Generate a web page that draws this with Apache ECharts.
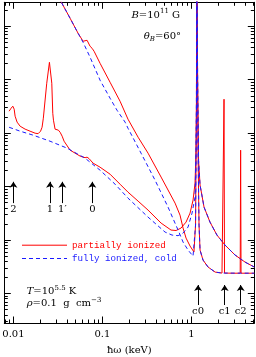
<!DOCTYPE html>
<html><head><meta charset="utf-8">
<script src="https://cdn.jsdelivr.net/npm/echarts@6/dist/echarts.min.js"></script>
<style>html,body{margin:0;padding:0;background:#fff}#c{width:256px;height:357px}</style>
</head><body><div id="c"></div>
<script>
// [photon energy ħω (keV), absorption opacity (arb. log units)]
const partialModeA = [
  [0.0318, 36400],[0.0434, 14100],[0.0533, 7400],[0.0607, 5250],[0.0639, 5710],
  [0.0673, 5470],[0.0727, 4230],[0.0766, 3880],[0.0807, 3410],[0.0942, 2030],
  [0.122, 898],[0.158, 396],[0.194, 183],[0.252, 84.2],[0.326, 42.3],
  [0.457, 15.1],[0.656, 4.92],[0.746, 2.93],[0.807, 1.68],[0.872, 1.09],
  [0.967, 0.773],[1.07, 0.597],[1.115, 1.91],[1.138, 175],[1.153, 72000],
  [1.171, 72000],[1.189, 48.1],[1.22, 1.91],[1.253, 0.650],[1.353, 0.423],
  [1.54, 0.313],[1.85, 0.252],[2.21, 0.2415],[2.31, 0.2415],[2.33, 432],
  [2.36, 0.2415],[2.87, 0.24],[3.54, 0.24],[3.58, 48.1],[3.62, 0.24],[5.1, 0.24]
];
const fullModeA = [
  [0.0318, 36400],[0.0434, 14100],[0.0533, 7400],[0.0607, 5020],[0.0727, 2640],
  [0.0942, 979],[0.122, 451],[0.146, 269],[0.180, 161],[0.194, 124],
  [0.272, 42.3],[0.391, 13.2],[0.547, 4.14],[0.709, 1.54],[0.807, 0.918],
  [0.918, 0.650],[1.045, 0.502],[1.115, 1.91],[1.138, 175],[1.153, 72000],
  [1.171, 72000],[1.189, 48.1],[1.22, 1.91],[1.253, 0.650],[1.353, 0.423],
  [1.54, 0.313],[1.85, 0.252],[2.21, 0.2415],[5.1, 0.24]
];
const partialModeB = [
  [0.00895, 258],[0.00942, 293],[0.00985, 320],[0.0102, 281],[0.01045, 208],
  [0.0110, 161],[0.0119, 135],[0.01354, 119],[0.0154, 109],[0.01753, 100],
  [0.01895, 97.9],[0.0202, 109],[0.0210, 129],[0.0217, 191],[0.0237, 861],
  [0.0254, 2120],[0.0270, 861],[0.0277, 236],[0.0282, 175],[0.0294, 119],
  [0.0320, 114],[0.0335, 104],[0.0353, 87.9],[0.0371, 70.8],[0.0434, 48.1],
  [0.0562, 37.2],[0.0639, 34.8],[0.0673, 35.6],[0.0709, 33.4],[0.0786, 27.5],
  [0.0942, 23.1],[0.122, 17.1],[0.158, 11.1],[0.194, 7.89],[0.252, 5.36],
  [0.326, 3.64],[0.457, 2.08],[0.591, 1.54],[0.673, 1.51],[0.766, 1.68],
  [0.872, 2.17],[0.967, 3.20],[1.045, 5.60],[1.10, 11.6],[1.129, 48.1],
  [1.144, 414],[1.153, 72000],[1.171, 72000],[1.183, 414],[1.205, 31.3],
  [1.253, 10.7],[1.389, 4.14],[1.62, 2.17],[1.94, 1.24],[2.39, 0.807],
  [3.10, 0.525],[4.01, 0.388],[5.1, 0.313]
];
const fullModeB = [
  [0.00895, 129],[0.0119, 109],[0.01665, 91.8],[0.0258, 70.8],[0.0401, 52.5],
  [0.0639, 34.1],[0.0942, 20.3],[0.139, 11.1],[0.194, 6.10],[0.326, 2.69],
  [0.507, 1.41],[0.607, 1.24],[0.709, 1.21],[0.807, 1.35],[0.918, 1.75],
  [1.018, 3.20],[1.10, 6.37],[1.129, 48.1],[1.144, 414],[1.153, 72000],
  [1.171, 72000],[1.183, 414],[1.205, 31.3],[1.253, 10.7],[1.389, 4.14],
  [1.62, 2.17],[1.94, 1.24],[2.39, 0.807],[3.10, 0.525],[4.01, 0.388],[5.1, 0.313]
];
// transition energies (keV) marked by arrows
const boundLabels = ['2', '1', '1\u2032', '0'];
const boundEnergies = [0.01, 0.0258, 0.0355, 0.0771];
const edgeLabels = ['c0', 'c1', 'c2'];
const edgeEnergies = [1.19, 2.37, 3.59];
// tick values
const xMajorTicks = [0.01, 0.1, 1];
const xTickLabels = ['0.01', '0.1', '1'];
const xMinorTicks = [0.008,0.009,0.02,0.03,0.04,0.05,0.06,0.07,0.08,0.09,0.2,0.3,0.4,0.5,0.6,0.7,0.8,0.9,2,3,4,5];
const yMajorTicks = [0.1, 1, 10, 100, 1000, 10000];
const yMinorTicks = [0.03,0.04,0.05,0.06,0.07,0.08,0.09,0.2,0.3,0.4,0.5,0.6,0.7,0.8,0.9,2,3,4,5,6,7,8,9,
  20,30,40,50,60,70,80,90,200,300,400,500,600,700,800,900,2000,3000,4000,5000,6000,7000,8000,9000,20000];

const RED = '#ff0000', BLUE = '#1a1aff', SERIF = 'DejaVu Serif';
const X_MIN = 0.0079, X_MAX = 5.1, Y_MIN = 0.0281, Y_MAX = 28100;

function xAx(pos, ticks, len, main) {
  return {
    type: 'log', logBase: 10, min: X_MIN, max: X_MAX, position: pos,
    axisLine: {show: main, onZero: false, lineStyle: {color: '#000', width: 1}},
    axisTick: {show: true, inside: true, length: len, customValues: ticks, lineStyle: {color: '#000', width: 1}},
    axisLabel: main && pos === 'bottom' ? {
      show: true, customValues: xMajorTicks, margin: 6, color: '#000',
      fontFamily: SERIF, fontSize: 10,
      formatter: v => xTickLabels[xMajorTicks.findIndex(t => Math.abs(t - v) / t < 1e-6)]
    } : {show: false},
    splitLine: {show: false}, minorTick: {show: false},
    name: main && pos === 'bottom' ? 'ħω (keV)' : '',
    nameLocation: 'middle', nameGap: 22,
    nameTextStyle: {fontFamily: SERIF, fontSize: 10, color: '#000'}
  };
}
function yAx(pos, ticks, len, main) {
  return {
    type: 'log', logBase: 10, min: Y_MIN, max: Y_MAX, position: pos,
    axisLine: {show: main, onZero: false, lineStyle: {color: '#000', width: 1}},
    axisTick: {show: true, inside: true, length: len, customValues: ticks, lineStyle: {color: '#000', width: 1}},
    axisLabel: {show: false}, splitLine: {show: false}, minorTick: {show: false}
  };
}

function arrows(labels, energies, v0, v1) {
  return labels.map((n, i) => [
    {name: n, coord: [energies[i], v0]},
    {coord: [energies[i], v1]}
  ]);
}
function richStyles() {
  return {
    i: {fontFamily: SERIF, fontStyle: 'italic', fontSize: 10, lineHeight: 14, fill: '#000', color: '#000'},
    r: {fontFamily: SERIF, fontSize: 10, lineHeight: 14, fill: '#000', color: '#000'},
    sup: {fontFamily: SERIF, fontSize: 7, lineHeight: 7, verticalAlign: 'top', fill: '#000', color: '#000'},
    sub: {fontFamily: SERIF, fontStyle: 'italic', fontSize: 7, lineHeight: 7, verticalAlign: 'bottom', fill: '#000', color: '#000'}
  };
}

const chart = echarts.init(document.getElementById('c'), null, {renderer: 'canvas'});
chart.setOption({
  animation: false,
  textStyle: {fontFamily: SERIF},
  grid: {left: 4.3, right: 1.7, top: 2.3, bottom: 34, containLabel: false, outerBoundsMode: 'none'},
  xAxis: [
    xAx('bottom', xMajorTicks, 6.5, true),
    xAx('bottom', xMinorTicks, 3.5, false),
    xAx('top', xMajorTicks, 6.5, true),
    xAx('top', xMinorTicks, 3.5, false)
  ],
  yAxis: [
    yAx('left', yMajorTicks, 6.5, true),
    yAx('left', yMinorTicks, 3.5, false),
    yAx('right', yMajorTicks, 6.5, true),
    yAx('right', yMinorTicks, 3.5, false)
  ],
  legend: {
    orient: 'vertical', left: 16.5, top: 235.7, padding: 5, itemWidth: 45, itemHeight: 10, itemGap: 4.3,
    selectedMode: false,
    itemStyle: {opacity: 0, borderWidth: 0},
    lineStyle: {width: 1},
    textStyle: {fontFamily: 'Liberation Mono', fontSize: 9.2},
    data: [
      {name: 'partially ionized', textStyle: {color: RED}, itemStyle: {opacity: 0}},
      {name: 'fully ionized, cold', textStyle: {color: BLUE}, itemStyle: {opacity: 0}}
    ]
  },
  series: [
    {type: 'line', name: 'partially ionized', data: partialModeA, symbol: 'none', color: RED,
      lineStyle: {color: RED, width: 1}},
    {type: 'line', name: 'partially ionized', data: partialModeB, symbol: 'none', color: RED,
      lineStyle: {color: RED, width: 1}},
    {type: 'line', name: 'fully ionized, cold', data: fullModeA, symbol: 'none', color: BLUE,
      lineStyle: {color: BLUE, width: 1, type: [4, 3]}},
    {type: 'line', name: 'fully ionized, cold', data: fullModeB, symbol: 'none', color: BLUE,
      lineStyle: {color: BLUE, width: 1, type: [4, 3]}},
    {type: 'line', name: 'arrows', data: [], color: '#000', symbol: 'none',
      markLine: {
        silent: true, animation: false, symbol: ['none', 'arrow'], symbolSize: 6,
        lineStyle: {color: '#000', width: 1, type: 'solid'},
        label: {show: true, position: 'start', distance: 1, formatter: p => p.name,
          color: '#000', fontFamily: SERIF, fontSize: 10},
        data: arrows(boundLabels, boundEnergies, 4.92, 12.3)
          .concat(arrows(edgeLabels, edgeEnergies, 0.061, 0.144))
      }}
  ],
  graphic: [
    {type: 'text', x: 180, y: 15, style: {
      text: '{i|B}{r|=10}{sup|11}{r| G}', align: 'right', verticalAlign: 'middle', fill: '#000',
      rich: richStyles()}},
    {type: 'text', x: 181, y: 36, style: {
      text: '{i|θ}{sub|B}{r|=60°}', align: 'right', verticalAlign: 'middle', fill: '#000',
      rich: richStyles()}},
    {type: 'text', x: 26.7, y: 291.5, style: {
      text: '{i|T}{r|=10}{sup|5.5}{r| K}', align: 'left', verticalAlign: 'middle', fill: '#000',
      rich: richStyles()}},
    {type: 'text', x: 26.7, y: 303.5, style: {
      text: '{i|ρ}{r|=0.1  g  cm}{sup|−3}', align: 'left', verticalAlign: 'middle', fill: '#000',
      rich: richStyles()}}
  ]
});
</script></body></html>
